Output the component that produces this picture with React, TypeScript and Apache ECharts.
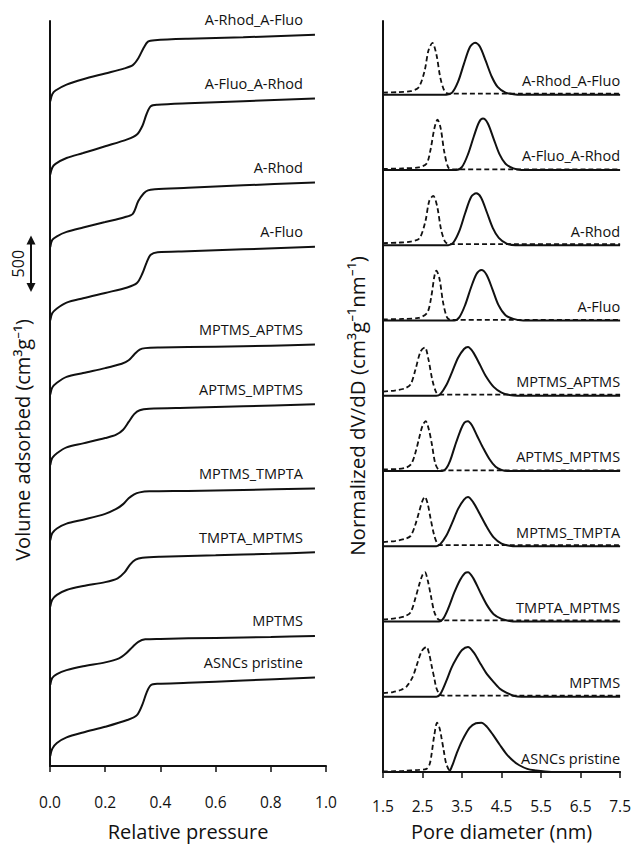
import React, { useEffect, useRef } from "react";
import * as echarts from "echarts";

const SAMPLES = [
  "A-Rhod_A-Fluo",
  "A-Fluo_A-Rhod",
  "A-Rhod",
  "A-Fluo",
  "MPTMS_APTMS",
  "APTMS_MPTMS",
  "MPTMS_TMPTA",
  "TMPTA_MPTMS",
  "MPTMS",
  "ASNCs pristine",
];

// N2 isotherms: relative pressure (P/P0) and adsorbed volume (cm3/g)
const ISO_P: number[][] = [
  [0.001, 0.008, 0.02, 0.06, 0.12, 0.2, 0.27, 0.3, 0.32, 0.34, 0.355, 0.38, 0.5, 0.7, 0.96],
  [0.001, 0.008, 0.02, 0.06, 0.12, 0.2, 0.28, 0.315, 0.335, 0.35, 0.365, 0.39, 0.5, 0.7, 0.96],
  [0.001, 0.008, 0.025, 0.06, 0.12, 0.2, 0.27, 0.3, 0.32, 0.34, 0.355, 0.38, 0.5, 0.7, 0.96],
  [0.001, 0.008, 0.025, 0.06, 0.12, 0.2, 0.28, 0.315, 0.335, 0.35, 0.365, 0.39, 0.5, 0.7, 0.96],
  [0.001, 0.008, 0.025, 0.06, 0.12, 0.2, 0.26, 0.285, 0.305, 0.325, 0.345, 0.4, 0.6, 0.8, 0.96],
  [0.001, 0.008, 0.025, 0.06, 0.12, 0.2, 0.24, 0.265, 0.285, 0.305, 0.325, 0.36, 0.5, 0.7, 0.96],
  [0.001, 0.008, 0.025, 0.06, 0.12, 0.2, 0.24, 0.265, 0.285, 0.305, 0.325, 0.36, 0.5, 0.7, 0.96],
  [0.001, 0.008, 0.025, 0.06, 0.12, 0.2, 0.245, 0.27, 0.29, 0.31, 0.335, 0.4, 0.6, 0.8, 0.96],
  [0.001, 0.008, 0.025, 0.06, 0.12, 0.2, 0.25, 0.275, 0.3, 0.32, 0.345, 0.4, 0.6, 0.8, 0.96],
  [0.001, 0.008, 0.025, 0.06, 0.12, 0.2, 0.28, 0.315, 0.335, 0.35, 0.365, 0.39, 0.5, 0.7, 0.96],
];
const ISO_V: number[][] = [
  [150, 211, 245, 297, 345, 396, 441, 470, 531, 626, 678, 691, 704, 717, 739],
  [150, 211, 245, 297, 341, 401, 462, 505, 583, 687, 756, 769, 782, 800, 825],
  [150, 211, 245, 284, 323, 371, 414, 444, 557, 626, 652, 661, 674, 696, 722],
  [150, 211, 254, 306, 345, 392, 440, 479, 566, 661, 730, 752, 761, 778, 800],
  [150, 211, 254, 306, 341, 384, 423, 453, 505, 548, 561, 566, 574, 583, 592],
  [150, 211, 254, 306, 341, 388, 418, 462, 531, 600, 635, 648, 657, 670, 687],
  [150, 211, 254, 297, 332, 384, 427, 470, 522, 557, 574, 583, 587, 596, 609],
  [150, 211, 254, 297, 332, 367, 401, 453, 522, 566, 583, 592, 605, 618, 631],
  [150, 211, 245, 280, 315, 349, 384, 427, 488, 531, 553, 557, 566, 574, 583],
  [150, 215, 266, 316, 360, 410, 470, 514, 609, 713, 778, 791, 800, 821, 847],
];
// vertical shift of each isotherm (cm3/g)
const ISO_OFFSET = [5839, 5189, 4548, 3899, 3241, 2617, 1950, 1362, 669, 37];
const SCALE_BAR = [4300, 4800]; // 500 cm3/g

// Pore size distributions: [pore diameter (nm), normalized dV/dD]
const PSD_DASHED: number[][][] = [
  [[1.5, 0.04], [1.9, 0.05], [2.2, 0.07], [2.4, 0.14], [2.55, 0.45], [2.65, 0.85], [2.75, 1.0], [2.85, 0.78], [2.95, 0.33], [3.05, 0.08], [3.15, 0.02], [4.0, 0.02], [5.0, 0.02], [6.0, 0.02], [7.5, 0.02]],
  [[1.5, 0.02], [2.0, 0.03], [2.4, 0.05], [2.6, 0.12], [2.7, 0.38], [2.8, 0.8], [2.88, 0.97], [2.96, 0.8], [3.05, 0.35], [3.15, 0.05], [3.25, 0.01], [4.5, 0.01], [7.5, 0.01]],
  [[1.5, 0.04], [1.9, 0.05], [2.2, 0.07], [2.42, 0.13], [2.57, 0.45], [2.67, 0.85], [2.77, 0.95], [2.87, 0.75], [2.97, 0.3], [3.07, 0.07], [3.17, 0.02], [4.5, 0.02], [7.5, 0.02]],
  [[1.5, 0.02], [2.0, 0.03], [2.4, 0.05], [2.62, 0.15], [2.72, 0.45], [2.8, 0.85], [2.85, 0.96], [2.93, 0.8], [3.02, 0.35], [3.12, 0.06], [3.22, 0.01], [4.5, 0.01], [7.5, 0.01]],
  [[1.5, 0.08], [1.8, 0.1], [2.05, 0.14], [2.2, 0.22], [2.32, 0.5], [2.45, 0.85], [2.56, 0.93], [2.65, 0.7], [2.75, 0.3], [2.85, 0.06], [2.95, 0.02], [4.0, 0.02], [5.0, 0.02], [7.5, 0.02]],
  [[1.5, 0.03], [1.9, 0.04], [2.1, 0.07], [2.22, 0.14], [2.32, 0.35], [2.42, 0.65], [2.5, 0.87], [2.58, 0.96], [2.66, 0.8], [2.74, 0.5], [2.82, 0.15], [2.9, 0.03], [3.0, 0.01], [4.5, 0.01], [7.5, 0.01]],
  [[1.5, 0.08], [1.8, 0.1], [2.05, 0.14], [2.2, 0.2], [2.32, 0.42], [2.42, 0.68], [2.5, 0.88], [2.56, 0.95], [2.63, 0.82], [2.7, 0.55], [2.8, 0.2], [2.9, 0.03], [3.0, 0.02], [4.5, 0.02], [7.5, 0.02]],
  [[1.5, 0.04], [1.8, 0.06], [2.05, 0.1], [2.2, 0.18], [2.32, 0.45], [2.42, 0.72], [2.5, 0.9], [2.56, 0.95], [2.63, 0.8], [2.71, 0.5], [2.8, 0.18], [2.9, 0.04], [3.0, 0.02], [4.5, 0.02], [7.5, 0.02]],
  [[1.5, 0.07], [1.75, 0.09], [1.95, 0.13], [2.1, 0.2], [2.25, 0.38], [2.35, 0.6], [2.48, 0.88], [2.6, 0.96], [2.67, 0.82], [2.73, 0.6], [2.8, 0.35], [2.85, 0.17], [2.94, 0.04], [3.05, 0.02], [4.5, 0.02], [7.5, 0.02]],
  [[1.5, 0.01], [2.0, 0.02], [2.4, 0.04], [2.6, 0.06], [2.68, 0.15], [2.73, 0.35], [2.8, 0.72], [2.87, 0.95], [2.93, 0.85], [2.98, 0.66], [3.04, 0.4], [3.1, 0.16], [3.19, 0.02], [3.3, 0.0], [7.5, 0.0]],
];
const PSD_SOLID: number[][][] = [
  [[1.5, 0], [3.1, 0], [3.25, 0.04], [3.4, 0.25], [3.55, 0.6], [3.7, 0.92], [3.83, 1.0], [3.95, 0.93], [4.1, 0.65], [4.25, 0.35], [4.4, 0.15], [4.6, 0.04], [4.8, 0.01], [5.0, 0], [7.5, 0]],
  [[1.5, 0], [3.35, 0], [3.5, 0.06], [3.65, 0.3], [3.8, 0.65], [3.93, 0.92], [4.03, 0.99], [4.15, 0.9], [4.3, 0.6], [4.45, 0.3], [4.6, 0.12], [4.8, 0.03], [5.0, 0], [7.5, 0]],
  [[1.5, 0], [3.15, 0], [3.28, 0.05], [3.43, 0.27], [3.58, 0.62], [3.73, 0.93], [3.86, 1.0], [3.98, 0.92], [4.13, 0.63], [4.28, 0.33], [4.43, 0.14], [4.63, 0.03], [4.85, 0], [7.5, 0]],
  [[1.5, 0], [3.3, 0], [3.43, 0.06], [3.58, 0.3], [3.73, 0.64], [3.87, 0.9], [3.99, 0.97], [4.12, 0.88], [4.27, 0.6], [4.42, 0.3], [4.6, 0.1], [4.8, 0.03], [5.05, 0], [7.5, 0]],
  [[1.5, 0], [2.85, 0], [2.95, 0.03], [3.1, 0.2], [3.25, 0.46], [3.4, 0.73], [3.55, 0.9], [3.65, 0.94], [3.78, 0.84], [3.95, 0.6], [4.1, 0.38], [4.3, 0.17], [4.5, 0.06], [4.7, 0.015], [4.9, 0], [7.5, 0]],
  [[1.5, 0], [3.0, 0], [3.1, 0.05], [3.2, 0.2], [3.32, 0.48], [3.45, 0.76], [3.56, 0.93], [3.65, 0.96], [3.75, 0.88], [3.88, 0.68], [4.03, 0.45], [4.2, 0.22], [4.35, 0.08], [4.5, 0.02], [4.65, 0], [7.5, 0]],
  [[1.5, 0], [2.85, 0], [2.95, 0.04], [3.1, 0.2], [3.25, 0.45], [3.4, 0.72], [3.55, 0.9], [3.65, 0.95], [3.78, 0.85], [3.95, 0.62], [4.12, 0.38], [4.3, 0.17], [4.5, 0.05], [4.7, 0.01], [4.9, 0], [7.5, 0]],
  [[1.5, 0], [2.92, 0], [3.02, 0.05], [3.15, 0.25], [3.3, 0.55], [3.45, 0.8], [3.57, 0.93], [3.65, 0.95], [3.78, 0.84], [3.95, 0.58], [4.12, 0.33], [4.3, 0.14], [4.5, 0.05], [4.7, 0.01], [4.9, 0], [7.5, 0]],
  [[1.5, 0], [2.85, 0], [2.95, 0.05], [3.1, 0.3], [3.23, 0.55], [3.36, 0.74], [3.5, 0.9], [3.65, 0.96], [3.8, 0.85], [3.94, 0.67], [4.1, 0.47], [4.28, 0.3], [4.45, 0.16], [4.62, 0.08], [4.8, 0.02], [5.0, 0], [7.5, 0]],
  [[1.5, 0], [3.15, 0], [3.25, 0.12], [3.36, 0.35], [3.5, 0.6], [3.69, 0.85], [3.85, 0.94], [3.99, 0.95], [4.13, 0.87], [4.28, 0.72], [4.45, 0.53], [4.62, 0.35], [4.8, 0.21], [4.95, 0.13], [5.15, 0.06], [5.37, 0.03], [5.6, 0.01], [5.9, 0], [7.5, 0]],
];
const PSD_OFFSET = [13.05, 11.6, 10.15, 8.7, 7.25, 5.8, 4.35, 2.9, 1.45, 0];
const D_MIN = 1.5; // first pore-diameter tick

const FONT = '"Open Sans", "Noto Sans", sans-serif';
const INK = "#111";

export default function App() {
  const ref = useRef<HTMLDivElement>(null);
  useEffect(() => {
    const chart = echarts.init(ref.current!, null, { renderer: "svg" });
    const series: any[] = [];
    SAMPLES.forEach((name, i) => {
      series.push({
        type: "line",
        name,
        xAxisIndex: 0,
        yAxisIndex: 0,
        data: ISO_P[i].map((p, j) => [p, ISO_V[i][j] + ISO_OFFSET[i]]),
        smooth: 0.3,
        symbol: "none",
        silent: true,
        lineStyle: { color: INK, width: 2 },
      });
    });
    SAMPLES.forEach((name, i) => {
      series.push({
        type: "line",
        name: name + " dashed",
        xAxisIndex: 1,
        yAxisIndex: 1,
        data: PSD_DASHED[i].map(([d, v]) => [d - D_MIN, v + PSD_OFFSET[i]]),
        smooth: 0.3,
        symbol: "none",
        silent: true,
        lineStyle: { color: INK, width: 1.8, type: [5, 3] },
      });
      series.push({
        type: "line",
        name: name + " solid",
        xAxisIndex: 1,
        yAxisIndex: 1,
        data: PSD_SOLID[i].map(([d, v]) => [d - D_MIN, v + PSD_OFFSET[i]]),
        smooth: 0.3,
        symbol: "none",
        silent: true,
        lineStyle: { color: INK, width: 2 },
      });
    });

    const axisLine = { show: true, onZero: false, lineStyle: { color: INK, width: 2 } };
    chart.setOption({
      animation: false,
      grid: [
        { left: 50, top: 21, width: 276, height: 762 },
        { left: 383, top: 21, width: 238, height: 764 },
      ],
      xAxis: [
        {
          type: "value",
          gridIndex: 0,
          min: 0,
          max: 1,
          interval: 0.2,
          axisLine,
          axisTick: { show: true, length: 6, lineStyle: { color: INK, width: 1.5 } },
          splitLine: { show: false },
          axisLabel: {
            margin: 28,
            color: INK,
            fontFamily: FONT,
            fontSize: 15.5,
            formatter: (v: number) => v.toFixed(1),
          },
          name: "Relative pressure",
          nameLocation: "middle",
          nameGap: 55,
          nameTextStyle: { color: INK, fontFamily: FONT, fontSize: 20 },
        },
        {
          type: "value",
          gridIndex: 1,
          min: 0,
          max: 6,
          interval: 1,
          axisLine,
          axisTick: { show: true, length: 6, lineStyle: { color: INK, width: 1.5 } },
          splitLine: { show: false },
          axisLabel: {
            margin: 26,
            color: INK,
            fontFamily: FONT,
            fontSize: 15.5,
            formatter: (v: number) => (v + D_MIN).toFixed(1),
          },
          name: "Pore diameter (nm)",
          nameLocation: "middle",
          nameGap: 49,
          nameTextStyle: { color: INK, fontFamily: FONT, fontSize: 20 },
        },
      ],
      yAxis: [
        {
          type: "value",
          gridIndex: 0,
          min: 100,
          max: 6700,
          axisLine,
          axisTick: { show: false },
          axisLabel: { show: false },
          splitLine: { show: false },
        },
        {
          type: "value",
          gridIndex: 1,
          min: 0,
          max: 14.47,
          axisLine,
          axisTick: { show: false },
          axisLabel: { show: false },
          splitLine: { show: false },
        },
      ],
      series,
    });

    const graphic: any[] = [];
    SAMPLES.forEach((name, i) => {
      const n = ISO_P[i].length;
      const pt = chart.convertToPixel({ gridIndex: 0 }, [ISO_P[i][n - 1], ISO_V[i][n - 1] + ISO_OFFSET[i]]) as number[];
      graphic.push({
        type: "text",
        x: pt[0] - 12,
        y: pt[1] - 15,
        silent: true,
        style: { text: name, font: `14.5px ${FONT}`, fill: INK, align: "right", verticalAlign: "middle" },
      });
      const q = chart.convertToPixel({ gridIndex: 1 }, [7.5 - D_MIN, PSD_OFFSET[i]]) as number[];
      graphic.push({
        type: "text",
        x: q[0],
        y: q[1] - 14,
        silent: true,
        style: { text: name, font: `14.5px ${FONT}`, fill: INK, align: "right", verticalAlign: "middle" },
      });
    });

    // 500 cm3/g scale bar
    const top = (chart.convertToPixel({ gridIndex: 0 }, [0, SCALE_BAR[1]]) as number[])[1];
    const bot = (chart.convertToPixel({ gridIndex: 0 }, [0, SCALE_BAR[0]]) as number[])[1];
    const bx = 31;
    graphic.push(
      { type: "line", silent: true, shape: { x1: bx, y1: top + 6, x2: bx, y2: bot - 6 }, style: { stroke: INK, lineWidth: 2 } },
      { type: "polygon", silent: true, shape: { points: [[bx, top], [bx - 4.5, top + 9], [bx + 4.5, top + 9]] }, style: { fill: INK } },
      { type: "polygon", silent: true, shape: { points: [[bx, bot], [bx - 4.5, bot - 9], [bx + 4.5, bot - 9]] }, style: { fill: INK } },
      {
        type: "text",
        silent: true,
        x: 18,
        y: (top + bot) / 2,
        rotation: Math.PI / 2,
        style: { text: "500", font: `16px ${FONT}`, fill: INK, align: "center", verticalAlign: "middle" },
      }
    );

    graphic.push(
      {
        type: "text",
        silent: true,
        x: 22,
        y: 440,
        rotation: Math.PI / 2,
        style: {
          text: "Volume adsorbed (cm\u00b3g\u207b\u00b9)",
          font: `20px ${FONT}`,
          fill: INK,
          align: "center",
          verticalAlign: "middle",
        },
      },
      {
        type: "text",
        silent: true,
        x: 357,
        y: 406,
        rotation: Math.PI / 2,
        style: {
          text: "Normalized dV/dD (cm\u00b3g\u207b\u00b9nm\u207b\u00b9)",
          font: `20.5px ${FONT}`,
          fill: INK,
          align: "center",
          verticalAlign: "middle",
        },
      }
    );
    chart.setOption({ graphic });

    return () => chart.dispose();
  }, []);
  return <div ref={ref} style={{ position: "fixed", left: 0, top: 0, width: 634, height: 846, background: "#fff" }} />;
}
